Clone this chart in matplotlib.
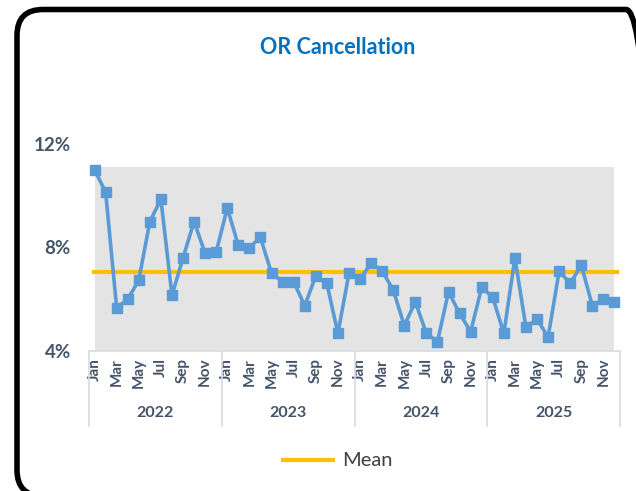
import matplotlib
matplotlib.use("Agg")
import matplotlib.pyplot as plt
import matplotlib.transforms as mtransforms
from matplotlib.patches import FancyBboxPatch
from matplotlib.lines import Line2D

# ---- data ----
years = ["2022", "2023", "2024", "2025"]
months = ["Jan", "Feb", "Mar", "Apr", "May", "Jun", "Jul", "Aug", "Sep", "Oct", "Nov", "Dec"]
values_2022 = [11.0, 10.15, 5.67, 6.0, 6.74, 9.0, 9.86, 6.15, 7.6, 9.0, 7.77, 7.83]
values_2023 = [9.53, 8.08, 8.0, 8.39, 7.0, 6.68, 6.68, 5.75, 6.9, 6.61, 4.68, 7.0]
values_2024 = [6.77, 7.39, 7.09, 6.36, 4.98, 5.9, 4.68, 4.36, 6.29, 5.45, 4.75, 6.46]
values_2025 = [6.07, 4.68, 7.6, 4.91, 5.24, 4.53, 7.09, 6.61, 7.32, 5.75, 6.0, 5.9]
mean_value = 7.05
band_value = 11.1
y_ticks = [4, 8, 12]

values = values_2022 + values_2023 + values_2024 + values_2025
n = len(values)
x = list(range(n))

plt.rcParams['font.family'] = ['Lato', 'DejaVu Sans']

W, H = 636, 491
fig = plt.figure(figsize=(W / 100, H / 100), dpi=100)

# rounded border
border = FancyBboxPatch((0.17, -0.05), 6.35, 4.865,
                        boxstyle="round,pad=0,rounding_size=0.26",
                        transform=fig.dpi_scale_trans, fill=False,
                        edgecolor="black", linewidth=4.0, zorder=10)
fig.patches.append(border)

ax = fig.add_axes([89 / W, (H - 351) / H, 531 / W, 207 / H])
ax.set_xlim(-0.5, n - 0.5)
ax.set_ylim(4, 12)

# gray band
ax.fill_between([0, n - 1], [4, 4], [band_value, band_value], color="#E4E4E4", linewidth=0, zorder=1)
# mean
ax.plot([-0.05, n - 1 + 0.2], [mean_value, mean_value], color="#FFC000", linewidth=3.0, zorder=2)
# series
ax.plot(x, values, color="#5B9BD5", linewidth=2.6, marker="s", markersize=7.8,
        markerfacecolor="#5B9BD5", markeredgecolor="#5B9BD5", zorder=3, solid_joinstyle="round")

for s in ["left", "right", "top"]:
    ax.spines[s].set_visible(False)
ax.spines["bottom"].set_color("#D6DCE5")
ax.spines["bottom"].set_linewidth(1.2)

ax.set_yticks(y_ticks)
ax.set_yticklabels([f"{v}%" for v in y_ticks], fontsize=13.5, fontweight="bold", color="#44546A")
ax.tick_params(axis="y", length=0, pad=13)

tick_pos = list(range(0, n, 2))
ax.set_xticks(tick_pos)
ax.set_xticklabels([months[i % 12] for i in tick_pos], rotation=90, fontsize=11,
                   fontweight="bold", color="#44546A", va="top", ha="center")
ax.tick_params(axis="x", length=0, pad=5)

trans = mtransforms.blended_transform_factory(ax.transData, ax.transAxes)
for k in range(len(years) + 1):
    xs = k * 12 - 0.5
    ax.add_line(Line2D([xs, xs], [0, -0.36], transform=trans, color="#D6DCE5",
                       linewidth=1.2, clip_on=False))
for k, yr in enumerate(years):
    ax.text(k * 12 + 5.5, -0.30, yr, transform=trans, ha="center", va="center",
            fontsize=11.5, fontweight="bold", color="#44546A")

fig.text(338 / W, 1 - 48 / H, "OR Cancellation", ha="center", va="center",
         fontsize=15.5, fontweight="bold", color="#0070C0")

# legend
fig.add_artist(Line2D([283 / W, 333 / W], [1 - 460 / H, 1 - 460 / H], transform=fig.transFigure,
                      color="#FFC000", linewidth=3.0))
fig.text(342 / W, 1 - 460 / H, "Mean", ha="left", va="center", fontsize=14.5, color="#404040")

fig.savefig("out.png", dpi=100)
